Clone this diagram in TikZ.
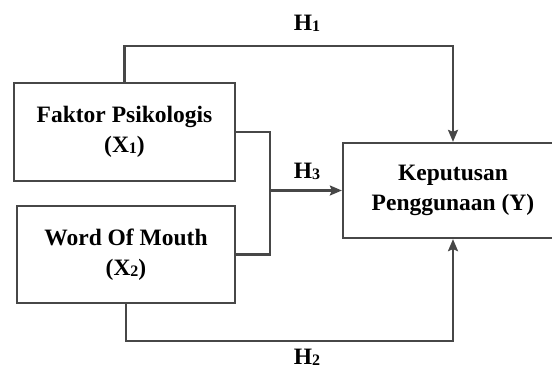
\documentclass[tikz,border=0pt]{standalone}
\usepackage{fontspec}
\setmainfont{Liberation Serif}
\usetikzlibrary{arrows.meta}
\definecolor{linegray}{HTML}{474747}
\newcommand\subdig[1]{\raisebox{-1.5pt}{\fontsize{16}{16}\selectfont #1}}
\tikzset{
  box/.style={draw=linegray, line width=2.3pt, inner sep=0pt, align=center,
    font=\fontsize{23.5}{29.5}\selectfont\bfseries},
  conn/.style={draw=linegray, line width=2.3pt},
  arr/.style={conn, -{Stealth[length=12pt,width=10pt,inset=2pt]}},
  hlabel/.style={font=\fontsize{23.5}{25}\selectfont\bfseries, inner sep=0pt, anchor=base}
}
\begin{document}
\begin{tikzpicture}[x=1pt,y=-1pt]
\useasboundingbox (0,0) rectangle (552,370);
\clip (0,0) rectangle (552,370);
\node[box, minimum width=221pt, minimum height=98pt] (x1) at (124.5,132)
  {Faktor Psikologis\\(X\subdig{1})};
\node[box, minimum width=218pt, minimum height=97pt] (x2) at (126,254.5)
  {Word Of Mouth\\(X\subdig{2})};
\node[box, minimum width=220pt, minimum height=95pt] (y) at (453,190.5)
  {Keputusan\\Penggunaan (Y)};
\coordinate (j) at (270,190.5);
\draw[arr] (x1.north) -- ++(0,-36) -| (y.north);
\draw[arr] (x2.south) -- ++(0,37) -| (y.south);
\draw[conn] (x1.east) -| (j);
\draw[conn] (x2.east) -| (j);
\draw[arr] (j) -- (y.west);
\node[hlabel] (h1) at (307,30) {H\subdig{1}};
\node[hlabel] (h3) at (307,178) {H\subdig{3}};
\node[hlabel] (h2) at (307,364) {H\subdig{2}};
\end{tikzpicture}
\end{document}
